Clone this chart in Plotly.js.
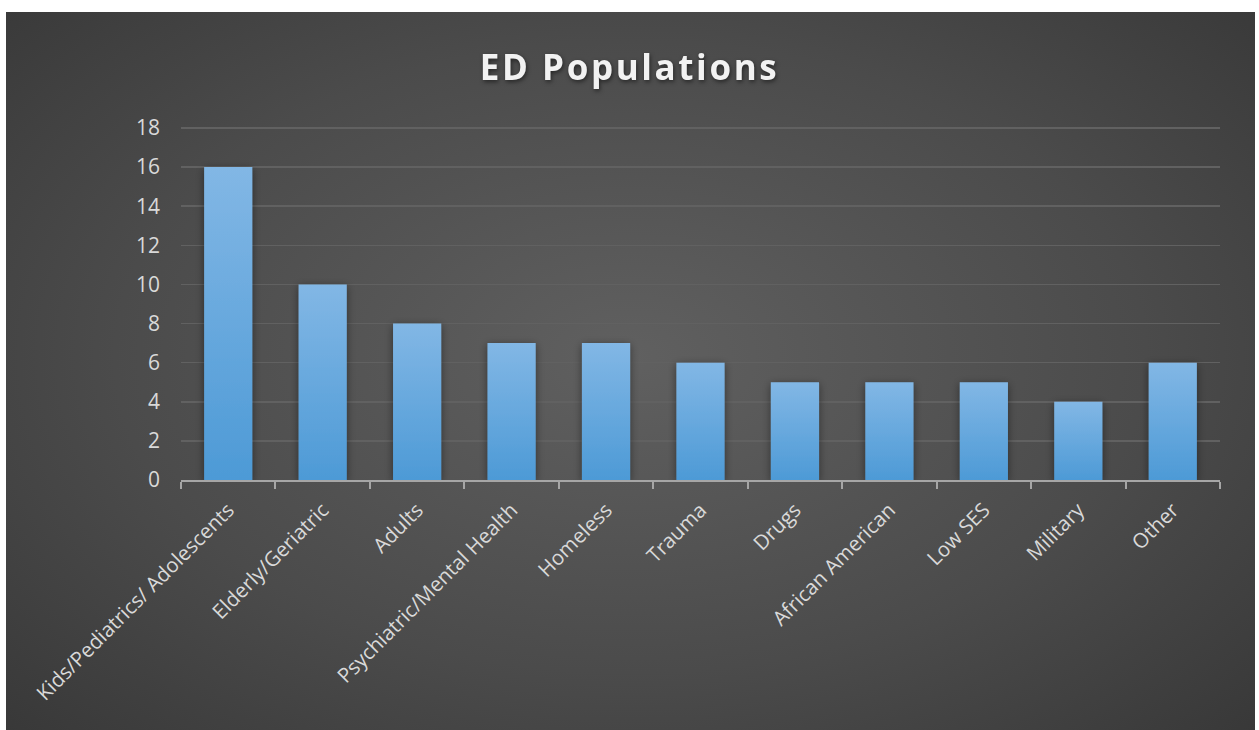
<!DOCTYPE html>
<html>
<head>
<meta charset="utf-8">
<script src="https://cdn.plot.ly/plotly-3.0.1.min.js"></script>
<style>
  html, body { margin:0; padding:0; background:#ffffff; width:1259px; height:730px; overflow:hidden; }
  #bg { position:absolute; left:6px; top:12px; width:1249px; height:718px;
        background: radial-gradient(ellipse 75% 80% at 50% 48%, #606060 0%, #4b4b4b 55%, #353535 100%); }
  #chart { position:absolute; left:0; top:0; width:1259px; height:730px; }
  .gtitle { letter-spacing: 2.6px; filter: drop-shadow(1px 2px 2px rgba(0,0,0,0.5)); }
</style>
</head>
<body>
<div id="bg"></div>
<div id="chart"></div>
<script>
const categories = ["Kids/Pediatrics/ Adolescents", "Elderly/Geriatric", "Adults", "Psychiatric/Mental Health", "Homeless", "Trauma", "Drugs", "African American", "Low SES", "Military", "Other"];
const counts = [16, 10, 8, 7, 7, 6, 5, 5, 5, 4, 6];
const yTicks = [0, 2, 4, 6, 8, 10, 12, 14, 16, 18];
const chartTitle = "ED Populations";

const trace = {
  type: "bar",
  x: categories,
  y: counts,
  marker: { color: "#62a8df", line: { width: 0 } },
  hoverinfo: "x+y"
};

const layout = {
  width: 1259, height: 730,
  paper_bgcolor: "rgba(0,0,0,0)",
  plot_bgcolor: "rgba(0,0,0,0)",
  margin: { l: 181, r: 39, t: 124, b: 250 },
  bargap: 0.49,
  showlegend: false,
  title: {
    text: "<b>" + chartTitle + "</b>",
    font: { family: "Open Sans, sans-serif", size: 35, color: "#f2f2f2" },
    x: 0.5, xanchor: "center", y: 0.907, yanchor: "middle"
  },
  xaxis: {
    type: "category",
    tickangle: -45,
    tickfont: { family: "Open Sans, sans-serif", size: 20.5, color: "#d9d9d9" },
    ticklabelstandoff: 8,
    showline: true, linecolor: "#a6a6a6", linewidth: 2,
    ticks: "outside", tickson: "boundaries", ticklen: 7, tickcolor: "#a6a6a6", tickwidth: 2,
    showgrid: false, zeroline: false
  },
  yaxis: {
    range: [0, 18.2],
    tickvals: yTicks,
    tickfont: { family: "Open Sans, sans-serif", size: 21, color: "#d9d9d9" },
    ticklabelstandoff: 20,
    showgrid: true, gridcolor: "#616161", gridwidth: 1.5,
    zeroline: false, showline: false, ticks: ""
  }
};

Plotly.newPlot("chart", [trace], layout, { displayModeBar: false, staticPlot: true }).then(function (gd) {
  const svg = gd.querySelector("svg.main-svg");
  const NS = "http://www.w3.org/2000/svg";
  let defs = svg.querySelector("defs");
  if (!defs) { defs = document.createElementNS(NS, "defs"); svg.insertBefore(defs, svg.firstChild); }
  const grad = document.createElementNS(NS, "linearGradient");
  grad.setAttribute("id", "barGrad");
  grad.setAttribute("x1", "0"); grad.setAttribute("y1", "0");
  grad.setAttribute("x2", "0"); grad.setAttribute("y2", "1");
  [["0", "#82b7e5"], ["1", "#4d9ad6"]].forEach(function (s) {
    const st = document.createElementNS(NS, "stop");
    st.setAttribute("offset", s[0]); st.setAttribute("stop-color", s[1]);
    grad.appendChild(st);
  });
  defs.appendChild(grad);
  const filt = document.createElementNS(NS, "filter");
  filt.setAttribute("id", "barShadow");
  filt.setAttribute("x", "-30%"); filt.setAttribute("y", "-10%");
  filt.setAttribute("width", "160%"); filt.setAttribute("height", "120%");
  const ds = document.createElementNS(NS, "feDropShadow");
  ds.setAttribute("dx", "0"); ds.setAttribute("dy", "2");
  ds.setAttribute("stdDeviation", "4"); ds.setAttribute("flood-color", "#000"); ds.setAttribute("flood-opacity", "0.45");
  filt.appendChild(ds);
  defs.appendChild(filt);
  gd.querySelectorAll(".barlayer .point path").forEach(function (p) {
    p.style.fill = "url(#barGrad)";
    p.setAttribute("filter", "url(#barShadow)");
  });
});
</script>
</body>
</html>
